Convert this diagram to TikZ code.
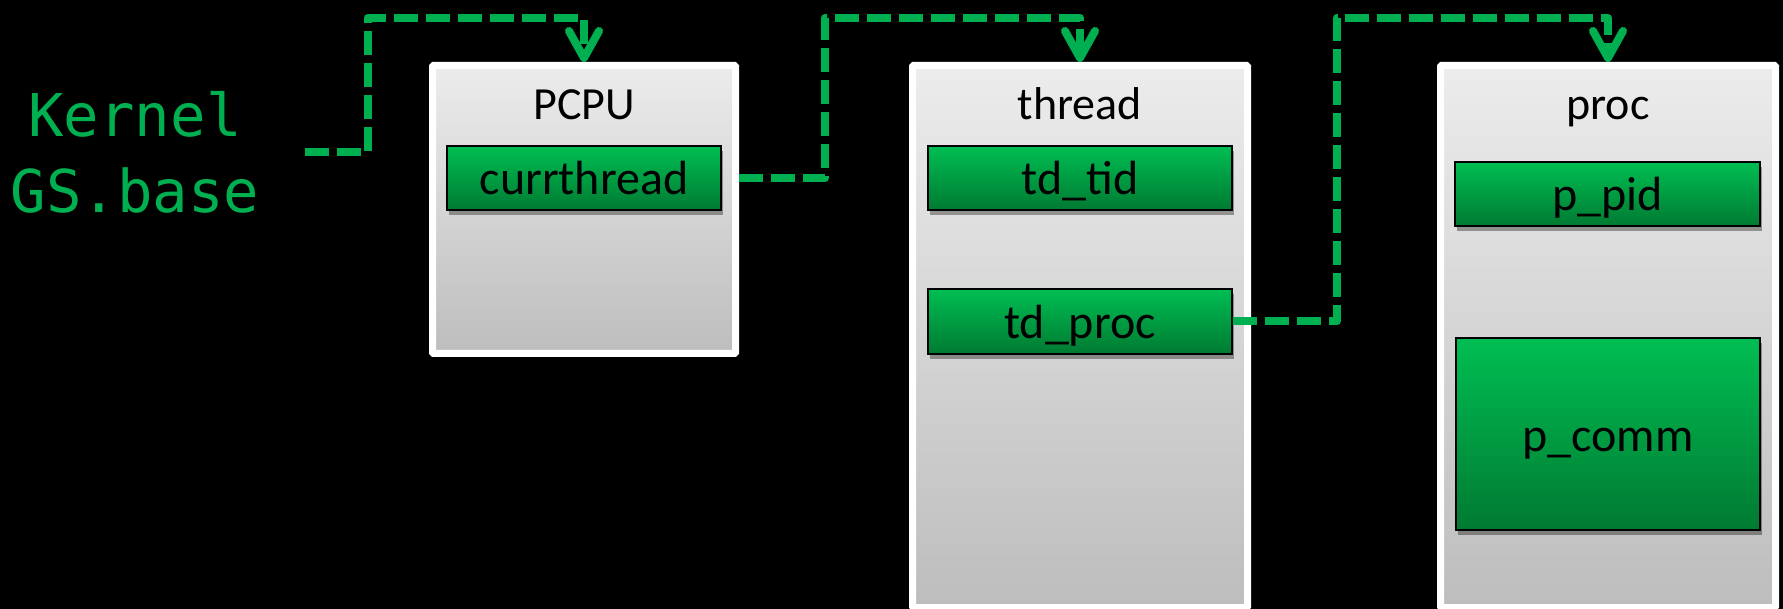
\documentclass[tikz,border=0pt]{standalone}
\usepackage{fontspec}
\setmainfont{Carlito}
\newfontfamily\kernelfont{DejaVu Sans Mono}
\usepackage{tikz}
\usepackage{xcolor}
\usetikzlibrary{arrows.meta,shadows}
\definecolor{kgreen}{RGB}{0,176,80}
\definecolor{fieldtop}{RGB}{0,190,82}
\definecolor{fieldbot}{RGB}{0,122,50}
\definecolor{boxtop}{RGB}{236,236,236}
\definecolor{boxbot}{RGB}{189,189,189}

\begin{document}
\begin{tikzpicture}[x=1pt, y=-1pt,
        structbox/.style={draw=white, line width=7pt, rounded corners=1pt, top color=boxtop, bottom color=boxbot, inner sep=0pt},
        title/.style={anchor=base, font=\fontsize{46}{55}\selectfont},
        field/.style={draw=black, line width=1.5pt, top color=fieldtop, bottom color=fieldbot, inner sep=0pt,
            text height=34pt, text depth=0pt, font=\fontsize{48}{57}\selectfont,
            drop shadow={shadow xshift=2pt, shadow yshift=-5pt, opacity=0.35, fill=black}},
        ptr/.style={draw=kgreen, line width=8pt, dash pattern=on 24pt off 8pt, line join=round,
            -{Straight Barb[length=27pt, width=30pt, round]}}]
                \useasboundingbox (0,0) rectangle (1783,609);
                \fill[black] (0,0) rectangle (1783,609);

                \node[text=kgreen, align=center, inner sep=0pt, font=\kernelfont\fontsize{59}{76}\selectfont] (kernel) at (135,152.5) {Kernel\\GS.base};

                \node[structbox, minimum width=303, minimum height=288] (pcpu) at (584,209.5) {};
                \node[structbox, minimum width=335, minimum height=542] (thread) at (1080,336.5) {};
                \node[structbox, minimum width=335, minimum height=542] (proc) at (1608,336.5) {};

                \node[title] (pcputitle) at ([yshift=-58pt]pcpu.north) {PCPU};
                \node[title] (threadtitle) at ([yshift=-58pt]thread.north) {thread};
                \node[title] (proctitle) at ([yshift=-58pt]proc.north) {proc};

                \node[field, minimum width=274, minimum height=64] (cur) at (584,178) {currthread};
                \node[field, minimum width=304, minimum height=64] (tdtid) at (1080,178) {td\_tid};
                \node[field, minimum width=304, minimum height=65] (tdproc) at (1080,321.5) {td\_proc};
                \node[field, minimum width=305, minimum height=64] (ppid) at (1607.5,194) {p\_pid};
                \node[field, minimum width=304, minimum height=192] (pcomm) at (1608,434) {p\_comm};

                \coordinate (top) at (0,18);
                \draw[ptr] ([xshift=45pt]kernel.east) -- ++(63,0) |- (top -| pcpu.north) -- (pcpu.north);
                \draw[ptr] (cur -| pcpu.east) -- ++(86,0) |- (top -| thread.north) -- (thread.north);
                \draw[ptr] (tdproc.east) -- ++(104,0) |- (top -| proc.north) -- (proc.north);
            \end{tikzpicture}
\end{document}
